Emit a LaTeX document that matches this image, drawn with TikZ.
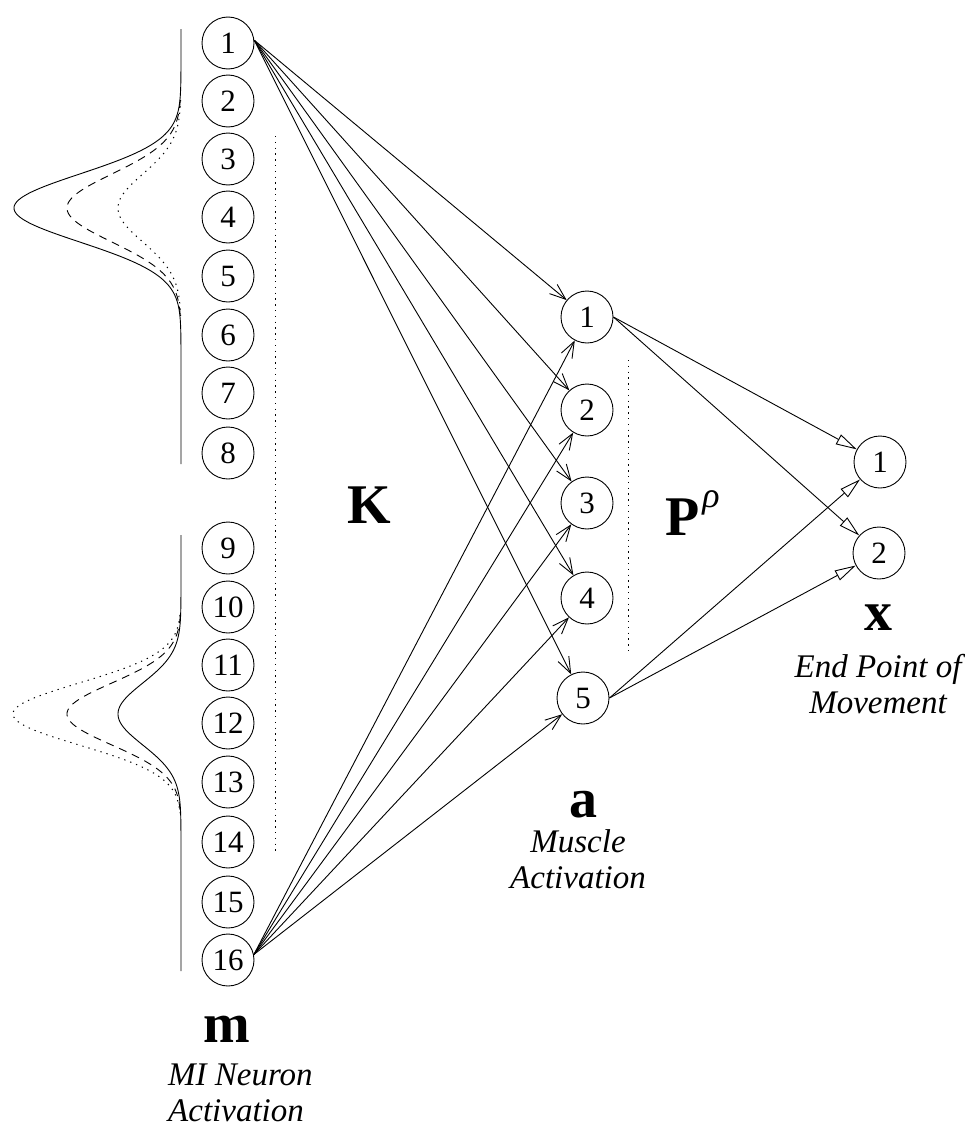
\documentclass[tikz,border=0pt]{standalone}
\usepackage{fontspec}
\setmainfont{Liberation Serif}
\usetikzlibrary{arrows.meta}
\begin{document}
\begin{tikzpicture}[x=1pt,y=-1pt,
  neuron/.style={draw, circle, minimum size=52pt, inner sep=0pt, line width=0.9pt, font=\fontsize{31}{34}\selectfont},
  conn/.style={line width=0.9pt},
  barb/.style={conn,-{Straight Barb[length=16pt,width=12pt]}},
  tri/.style={conn,-{Triangle[open,length=21pt,width=11pt]}},
  biglabel/.style={font=\fontsize{56}{60}\selectfont\bfseries, anchor=base, inner sep=0pt},
  caption/.style={font=\fontsize{33}{36}\selectfont\itshape, align=center, anchor=base, inner sep=0pt},
  sepdots/.style={line width=1pt, dash pattern=on 1.3pt off 4.5pt},
  dashcurve/.style={line width=0.9pt, dash pattern=on 8pt off 6pt},
  dotcurve/.style={line width=1pt, dash pattern=on 1.3pt off 5pt},
]
\useasboundingbox (0,0) rectangle (965,1127);

% Gaussian activity profiles
\draw[conn] plot[domain=29:464, samples=220, smooth] ({181-167*exp(-0.5*((\x-208)/34)^2)}, \x);
\draw[dashcurve] plot[domain=100:318, samples=120, smooth] ({181-114*exp(-0.5*((\x-208)/34)^2)}, \x);
\draw[dotcurve] plot[domain=100:318, samples=120, smooth] ({181-63*exp(-0.5*((\x-208)/34)^2)}, \x);

\draw[conn] plot[domain=535:971, samples=220, smooth] ({181-63*exp(-0.5*((\x-714)/31)^2)}, \x);
\draw[dashcurve] plot[domain=615:813, samples=120, smooth] ({181-114*exp(-0.5*((\x-714)/31)^2)}, \x);
\draw[dotcurve] plot[domain=615:813, samples=120, smooth] ({181-168*exp(-0.5*((\x-714)/31)^2)}, \x);

% MI neurons
\foreach \i/\y in {1/43,2/101,3/159,4/217,5/276,6/335,7/393,8/453,9/548,10/607,11/665,12/723,13/782,14/842,15/902,16/960}
  \node[neuron] (m\i) at (228,\y) {\i};

% muscles
\node[neuron] (a1) at (587,317) {1};
\node[neuron] (a2) at (587,410) {2};
\node[neuron] (a3) at (587,503) {3};
\node[neuron] (a4) at (587,598) {4};
\node[neuron] (a5) at (583,698) {5};

% end point
\node[neuron] (x1) at (880,462) {1};
\node[neuron] (x2) at (879,553) {2};

% separators
\coordinate (d1s) at (275,136);
\coordinate (d1e) at (275,853);
\draw[sepdots] (d1s) -- (d1e);
\coordinate (d2s) at (628,360);
\coordinate (d2e) at (628,653);
\draw[sepdots] (d2s) -- (d2e);

% K connections
\foreach \j in {1,...,5} {
  \draw[barb] (m1.6) -- (a\j);
  \draw[barb] (m16.12) -- (a\j);
}

% P connections
\draw[tri] (a1.east) -- (x1);
\draw[tri] (a1.east) -- (x2);
\draw[tri] (a5.east) -- (x1);
\draw[tri] (a5.east) -- (x2);

% labels
\node[biglabel] (K) at (369,523) {K};
\node[biglabel, anchor=base west] (P) at (665,535) {P\hspace{3pt}\raisebox{28pt}{\fontsize{36}{36}\selectfont\mdseries\itshape ρ}};
\node[biglabel] (mlab) at (227,1042) {m};
\node[biglabel] (alab) at (583,817) {a};
\node[biglabel] (xlab) at (878,630) {x};

\node[caption, align=left, anchor=base west] (mcap) at (168,1121) {MI Neuron\\Activation};
\node[caption] (acap) at (578,888) {Muscle\\Activation};
\node[caption] (xcap) at (878,713) {End Point of\\Movement};
\end{tikzpicture}
\end{document}
